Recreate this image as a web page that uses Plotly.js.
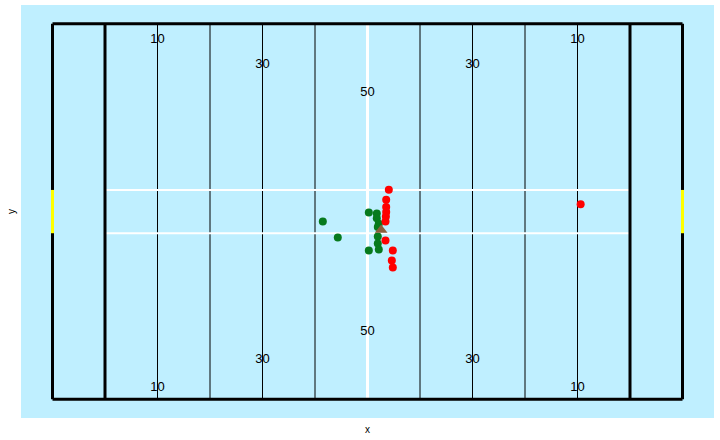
<!DOCTYPE html>
<html>
<head>
<meta charset="utf-8">
<script src="https://cdn.plot.ly/plotly-3.0.1.min.js"></script>
<style>html,body{margin:0;padding:0;background:#fff;}#chart{width:720px;height:440px;}</style>
</head>
<body>
<div id="chart"></div>
<script>
// Field geometry (yards)
const fieldLength = 120;
const fieldWidth = 53.33;
const endLines = [0, 120];
const goalLines = [10, 110];
const yardLines = [20, 30, 40, 50, 70, 80, 90, 100];
const midfield = [60];
const hashY = [23.58, 29.73];
const goalpostY = [23.58, 29.73];

// Yard number labels
const numX = [20, 40, 60, 80, 100];
const numText = ["10", "30", "50", "30", "10"];
const numTopY = [51.05, 47.55, 43.55, 47.55, 51.05];
const numBotY = [1.6, 5.55, 9.55, 5.55, 1.6];

// Players
const redX = [64.06, 63.56, 63.56, 63.56, 63.5, 63.43, 63.43, 64.82, 64.63, 64.82, 100.6];
const redY = [29.76, 28.33, 27.3, 26.6, 25.95, 25.26, 22.56, 21.14, 19.72, 18.72, 27.68];
const greenX = [51.49, 54.34, 60.25, 61.77, 61.77, 62.15, 61.96, 61.96, 61.96, 62.15, 60.25];
const greenY = [25.26, 22.99, 26.54, 26.37, 25.69, 24.92, 24.45, 23.1, 22.13, 21.28, 21.14];
const ballX = [62.6];
const ballY = [24.03];

const shapes = [];
yardLines.forEach(x => shapes.push({type:'line', x0:x, x1:x, y0:0, y1:fieldWidth, line:{color:'#000', width:1}, layer:'below'}));
midfield.forEach(x => shapes.push({type:'line', x0:x, x1:x, y0:0, y1:fieldWidth, line:{color:'#fff', width:3}, layer:'below'}));
hashY.forEach(y => shapes.push({type:'line', x0:goalLines[0], x1:goalLines[1], y0:y, y1:y, line:{color:'#fff', width:2}, layer:'below'}));
endLines.concat(goalLines).forEach(x => shapes.push({type:'line', x0:x, x1:x, y0:0, y1:fieldWidth, line:{color:'#000', width:3}, layer:'below'}));
[0, fieldWidth].forEach(y => shapes.push({type:'line', x0:0, x1:fieldLength, y0:y, y1:y, line:{color:'#000', width:3}, layer:'below'}));
endLines.forEach(x => shapes.push({type:'line', x0:x, x1:x, y0:goalpostY[0], y1:goalpostY[1], line:{color:'#FFFF00', width:3}, layer:'below'}));

const traces = [
  {x:numX, y:numTopY, text:numText, mode:'text', type:'scatter', textfont:{family:'Liberation Sans, Arial, sans-serif', size:13, color:'#000'}, hoverinfo:'skip'},
  {x:numX, y:numBotY, text:numText, mode:'text', type:'scatter', textfont:{family:'Liberation Sans, Arial, sans-serif', size:13, color:'#000'}, hoverinfo:'skip'},
  {x:greenX, y:greenY, mode:'markers', type:'scatter', marker:{color:'#077A1D', size:8}},
  {x:redX, y:redY, mode:'markers', type:'scatter', marker:{color:'#FF0000', size:8}},
  {x:ballX, y:ballY, mode:'markers', type:'scatter', marker:{color:'#8B5E3C', size:11, symbol:'triangle-up'}}
];

const layout = {
  width:720, height:440,
  margin:{l:21, r:6, t:5, b:22, pad:0},
  paper_bgcolor:'#ffffff',
  plot_bgcolor:'#BFEFFF',
  showlegend:false,
  font:{family:'Liberation Sans, Arial, sans-serif', color:'#000'},
  xaxis:{range:[-6, 126], showgrid:false, zeroline:false, showticklabels:false, ticks:'', showline:false,
         title:{text:'x', font:{size:10, color:'#000'}, standoff:7}},
  yaxis:{range:[-2.667, 56], showgrid:false, zeroline:false, showticklabels:false, ticks:'', showline:false,
         title:{text:'y', font:{size:10, color:'#000'}, standoff:2}},
  shapes:shapes
};
Plotly.newPlot('chart', traces, layout, {displayModeBar:false, staticPlot:true});
</script>
</body>
</html>
